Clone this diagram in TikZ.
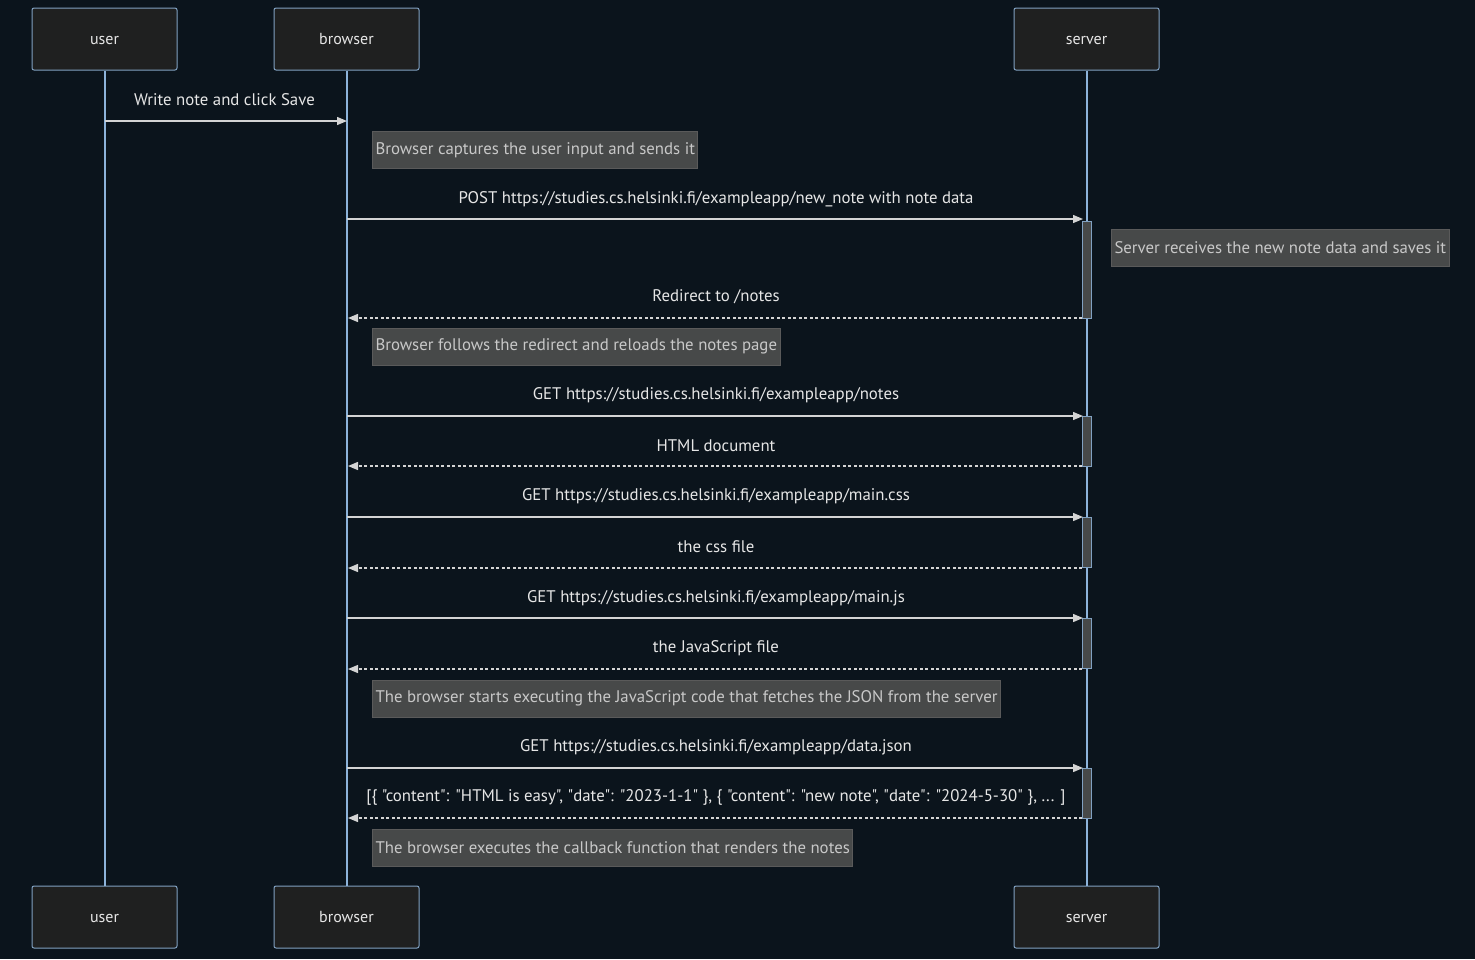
\documentclass[tikz,border=0pt]{standalone}
\usepackage{fontspec}
\setmainfont{PT Sans}[Ligatures=TeXOff]
\usetikzlibrary{arrows.meta}
\definecolor{bgc}{HTML}{0B141C}
\definecolor{actfill}{HTML}{1F2020}
\definecolor{actline}{HTML}{81A1C1}
\definecolor{lifec}{HTML}{8DB3DA}
\definecolor{msgc}{HTML}{D4D4D4}
\definecolor{txtc}{HTML}{E6E6E6}
\definecolor{notefill}{HTML}{474949}
\definecolor{noteline}{HTML}{5A5A5A}
\definecolor{notetxt}{HTML}{C8C8C8}
\tikzset{
  actor/.style={draw=actline, fill=actfill, line width=1pt, rounded corners=2pt,
    minimum width=145pt, minimum height=62pt, inner sep=0pt, text=txtc,
    text height=11pt, text depth=1pt, font=\fontsize{16}{19}\selectfont},
  lifeline/.style={draw=lifec, line width=2pt},
  msg/.style={draw=msgc, line width=1.3pt, -{Triangle[length=10pt,width=8pt]}},
  reply/.style={msg, dash pattern=on 3pt off 2.5pt},
  msglabel/.style={text=txtc, font=\fontsize{16.8}{19}\selectfont, inner sep=0pt},
  note/.style={draw=noteline, fill=notefill, line width=1pt, text=notetxt,
    font=\fontsize{16.8}{19}\selectfont, minimum height=37pt, inner xsep=3pt, inner ysep=0pt, anchor=west},
  activation/.style={draw=actline, fill=notefill, line width=1pt}
}
\begin{document}
\begin{tikzpicture}[x=1pt,y=-1pt]
\useasboundingbox[fill=bgc] (0,0) rectangle (1475,959);

% participants, top and bottom
\node[actor] (userT) at (104.5,39) {user};
\node[actor] (browT) at (346.5,39) {browser};
\node[actor] (servT) at (1086.5,39) {server};
\node[actor] (userB) at (104.5,917) {user};
\node[actor] (browB) at (346.5,917) {browser};
\node[actor] (servB) at (1086.5,917) {server};

% lifelines
\draw[lifeline] (userT.south) -- (userB.north);
\draw[lifeline] (browT.south) -- (browB.north);
\draw[lifeline] (servT.south) -- (servB.north);

% activation bars on the server
\draw[activation] (1082,221) rectangle (1091,318);
\draw[activation] (1082,416) rectangle (1091,466);
\draw[activation] (1082,517) rectangle (1091,567);
\draw[activation] (1082,618) rectangle (1091,668);
\draw[activation] (1082,768) rectangle (1091,818);

% message end points
\coordinate (u1) at (105,121);  \coordinate (b1) at (347,121);
\coordinate (b2) at (347,219);  \coordinate (s2) at (1083,219);
\coordinate (s3) at (1082,318); \coordinate (b3) at (348,318);
\coordinate (b4) at (347,416);  \coordinate (s4) at (1083,416);
\coordinate (s5) at (1082,466); \coordinate (b5) at (348,466);
\coordinate (b6) at (347,517);  \coordinate (s6) at (1083,517);
\coordinate (s7) at (1082,568); \coordinate (b7) at (348,568);
\coordinate (b8) at (347,618);  \coordinate (s8) at (1083,618);
\coordinate (s9) at (1082,669); \coordinate (b9) at (348,669);
\coordinate (b10) at (347,768); \coordinate (s10) at (1083,768);
\coordinate (s11) at (1082,818);\coordinate (b11) at (348,818);

% messages
\draw[msg] (u1) -- (b1);
\node[msglabel] (l1) at (224.5,100) {Write note and click Save};

\node[note] (n1) at (372,150) {Browser captures the user input and sends it};

\draw[msg] (b2) -- (s2);
\node[msglabel] (l2) at (716,199) {POST https://studies.cs.helsinki.fi/exampleapp/new\_note with note data};

\node[note] (n2) at (1111,248) {Server receives the new note data and saves it};

\draw[reply] (s3) -- (b3);
\node[msglabel] (l3) at (716,297) {Redirect to /notes};

\node[note] (n3) at (372,346.5) {Browser follows the redirect and reloads the notes page};

\draw[msg] (b4) -- (s4);
\node[msglabel] (l4) at (716,395) {GET https://studies.cs.helsinki.fi/exampleapp/notes};

\draw[reply] (s5) -- (b5);
\node[msglabel] (l5) at (716,446) {HTML document};

\draw[msg] (b6) -- (s6);
\node[msglabel] (l6) at (716,496) {GET https://studies.cs.helsinki.fi/exampleapp/main.css};

\draw[reply] (s7) -- (b7);
\node[msglabel] (l7) at (716,547) {the css file};

\draw[msg] (b8) -- (s8);
\node[msglabel] (l8) at (716,598) {GET https://studies.cs.helsinki.fi/exampleapp/main.js};

\draw[reply] (s9) -- (b9);
\node[msglabel] (l9) at (716,648) {the JavaScript file};

\node[note] (n4) at (372,698.5) {The browser starts executing the JavaScript code that fetches the JSON from the server};

\draw[msg] (b10) -- (s10);
\node[msglabel] (l10) at (716,747) {GET https://studies.cs.helsinki.fi/exampleapp/data.json};

\draw[reply] (s11) -- (b11);
\node[msglabel] (l11) at (716,797) {[\{ "content": "HTML is easy", "date": "2023-1-1" \}, \{ "content": "new note", "date": "2024-5-30" \}, ... ]};

\node[note] (n5) at (372,847.5) {The browser executes the callback function that renders the notes};
\end{tikzpicture}
\end{document}
